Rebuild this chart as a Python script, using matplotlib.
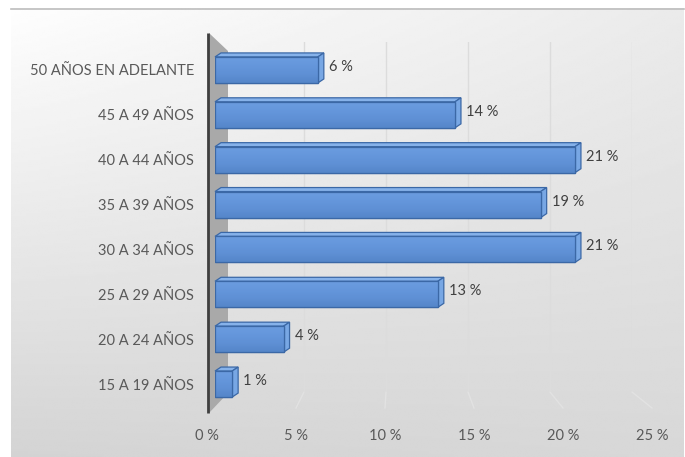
import numpy as np
import matplotlib
matplotlib.use("Agg")
import matplotlib.pyplot as plt
from matplotlib.patches import Polygon
from matplotlib.transforms import IdentityTransform

plt.rcParams['font.family'] = ['Lato', 'DejaVu Sans']

# --- data -------------------------------------------------------------
categories = ['15 A 19 AÑOS', '20 A 24 AÑOS', '25 A 29 AÑOS', '30 A 34 AÑOS',
              '35 A 39 AÑOS', '40 A 44 AÑOS', '45 A 49 AÑOS', '50 AÑOS EN ADELANTE']
values = [1, 4, 13, 21, 19, 21, 14, 6]
ticks = [0, 5, 10, 15, 20, 25]
tick_labels = ['0 %', '5 %', '10 %', '15 %', '20 %', '25 %']

W, H = 685, 457
fig = plt.figure(figsize=(W / 100, H / 100), dpi=100)


def px_axes(x0, y0, x1, y1, z):
    """Axes placed by pixel box (y measured from the top)."""
    a = fig.add_axes([x0 / W, 1 - y1 / H, (x1 - x0) / W, (y1 - y0) / H])
    a.set_zorder(z)
    a.patch.set_alpha(0)
    return a


# --- chart background -------------------------------------------------
bg = px_axes(0, 0, W, H, 0)
bg.set_xlim(0, W)
bg.set_ylim(H, 0)
bg.axis('off')
cx0, cy0, cx1, cy1 = 11, 8, 684, 457
ty, tx = np.mgrid[0:1:200j, 0:1:300j]
shade = 0.995 - 0.165 * ty - 0.075 * tx * (1 - ty) + 0.015 * tx * ty
bg.imshow(shade, cmap='gray', vmin=0, vmax=1, extent=(cx0, cx1, cy1, cy0),
          aspect='auto', interpolation='bilinear', zorder=0)
bg.plot([cx0, cx1], [cy0 + 0.5, cy0 + 0.5], color='#bdbdbd', lw=1.2, zorder=1)

# side wall next to the category axis
bg.add_patch(Polygon([(209, 33), (228, 51), (228, 393), (209, 413)],
                     closed=True, facecolor='#a9a9a9', edgecolor='none', zorder=2))
bg.plot([208, 208], [33, 413], color='#3f3f3f', lw=2.0, zorder=3,
        solid_capstyle='butt')

# --- back wall gridlines ----------------------------------------------
back = px_axes(222, 42, 632, 392, 1)
back.set_xlim(0, 25)
back.set_ylim(0, 1)
back.set_xticks(ticks[1:])
back.tick_params(length=0, labelbottom=False, labelleft=False)
back.set_yticks([])
for s in back.spines.values():
    s.set_visible(False)
back.grid(axis='x', color='#dcdcdc', lw=1.0)

# --- front floor edge carrying the value-axis labels -----------------
floor = px_axes(207, 408, 652, 412, 1)
floor.set_xlim(0, 25)
floor.set_xticks(ticks, tick_labels)
floor.set_yticks([])
floor.tick_params(length=0, pad=12, labelsize=10.5, labelcolor='#595959')
for s in floor.spines.values():
    s.set_visible(False)

# floor lines joining the back wall to the front edge
fig.canvas.draw()
for t in ticks[1:]:
    p0 = back.transData.transform((t, 0))
    p1 = floor.transData.transform((t, 1))
    fig.add_artist(plt.Line2D([p0[0], p1[0]], [p0[1], p1[1]], transform=IdentityTransform(),
                              color='#e2e2e2', lw=1.0, zorder=0.5))

# --- bars -------------------------------------------------------------
ax = px_axes(215, 47.5, 215 + 25 * 17.14, 406.5, 3)
ax.set_xlim(0, 25)
ax.set_ylim(-0.5, len(categories) - 0.5)
for s in ax.spines.values():
    s.set_visible(False)
ax.set_xticks([])
pos = np.arange(len(categories))
ax.set_yticks(pos, categories)
ax.tick_params(axis='y', length=0, pad=15, labelsize=10.5, labelcolor='#595959')

bar_h = 0.58
edge = '#3b68a6'
bars = ax.barh(pos, values, height=bar_h, color='#6394d8', edgecolor=edge,
               linewidth=0.9, zorder=3)

grad = np.linspace(0, 1, 64).reshape(-1, 1)
front_cmap = matplotlib.colors.LinearSegmentedColormap.from_list(
    'front', ['#6c9de0', '#6597dc', '#5f90d5', '#5586c9'])
dx, dy = 6, 4
fig.canvas.draw()
for b, v, y in zip(bars, values, pos):
    im = ax.imshow(grad, cmap=front_cmap, aspect='auto', interpolation='bilinear',
                   extent=(0, v, y - bar_h / 2, y + bar_h / 2), zorder=3.5)
    im.set_clip_path(b)
    # top and side faces (display pixels, offset by the depth)
    x0, yt = ax.transData.transform((0, y + bar_h / 2))
    x1, yb = ax.transData.transform((v, y - bar_h / 2))
    top = [(x0, yt), (x1, yt), (x1 + dx, yt + dy), (x0 + dx, yt + dy)]
    side = [(x1, yt), (x1 + dx, yt + dy), (x1 + dx, yb + dy), (x1, yb)]
    fig.add_artist(Polygon(top, closed=True, transform=IdentityTransform(),
                           facecolor='#86b2ea', edgecolor=edge, lw=0.9, zorder=3))
    fig.add_artist(Polygon(side, closed=True, transform=IdentityTransform(),
                           facecolor='#78a7e4', edgecolor=edge, lw=0.9, zorder=3))
    ax.annotate(f'{v} %', xy=(v, y), xytext=(11, 3), textcoords='offset pixels',
                ha='left', va='center', fontsize=10.5, color='#404040', zorder=5)
# redraw the front outline above the gradient fill
for b in bars:
    ax.add_patch(plt.Rectangle(b.get_xy(), b.get_width(), b.get_height(), fill=False,
                               edgecolor=edge, lw=0.9, zorder=4))

fig.savefig('out.png', dpi=100)
